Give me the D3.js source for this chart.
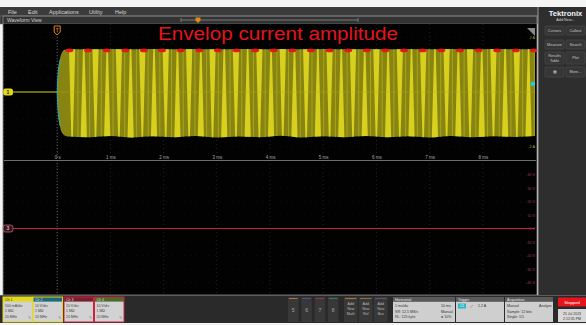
<!DOCTYPE html>
<html>
<head>
<meta charset="utf-8">
<script src="https://cdn.jsdelivr.net/npm/d3@7"></script>
<style>
  body { margin: 0; background: #fff; }
  svg { display: block; font-family: "Liberation Sans", Arial, sans-serif; }
</style>
</head>
<body>
<div id="chart"></div>
<script>
// values
const menuItems = ['File', 'Edit', 'Applications', 'Utility', 'Help']
const menuX = [8, 28, 49, 89, 115]

const timeTicks = [0, 1, 2, 3, 4, 5, 6, 7, 8]
const timeTickLabels = ['0 s', '1 ms', '2 ms', '3 ms', '4 ms', '5 ms', '6 ms', '7 ms', '8 ms']

// Ch1 current envelope (ms, A)
const envTime  = [0, 0.02, 0.05, 0.09, 0.14, 0.2, 0.6, 1.0, 1.4, 1.8, 2.2, 2.6, 3.0, 3.4, 3.8, 4.2, 4.6, 5.0, 5.4, 5.8, 6.2, 6.6, 7.0, 7.4, 7.8, 8.2, 8.6, 8.98]
const envUpper = [0, 0.75, 1.2, 1.45, 1.55, 1.57, 1.57, 1.58, 1.57, 1.58, 1.57, 1.58, 1.57, 1.58, 1.57, 1.58, 1.57, 1.58, 1.57, 1.58, 1.57, 1.58, 1.57, 1.58, 1.57, 1.58, 1.57, 1.58]
const envLower = [0, -0.8, -1.25, -1.5, -1.6, -1.64, -1.66, -1.62, -1.67, -1.63, -1.66, -1.62, -1.67, -1.64, -1.66, -1.61, -1.67, -1.63, -1.66, -1.62, -1.66, -1.63, -1.67, -1.62, -1.66, -1.63, -1.65, -1.62]
// bright aliasing stripes inside the envelope (ms)
const stripeTimes = [0.28, 0.50, 0.72, 0.94, 1.16, 1.38, 1.60, 1.82, 2.04, 2.26, 2.48, 2.70, 2.92, 3.14, 3.36, 3.58, 3.80, 4.02, 4.24, 4.46, 4.68, 4.90, 5.12, 5.34, 5.56, 5.78, 6.00, 6.22, 6.44, 6.66, 6.88, 7.10, 7.32, 7.54, 7.76, 7.98, 8.20, 8.42, 8.64, 8.86]
// red peak marks along the top of the envelope (ms)
const peakTimes = [0.23, 0.58, 0.93, 1.28, 1.63, 1.97, 2.32, 2.67, 3.02, 3.37, 3.72, 4.07, 4.42, 4.77, 5.12, 5.47, 5.82, 6.17, 6.52, 6.87, 7.22, 7.57, 7.92, 8.27, 8.62, 8.96]
const preTime = [-0.83, 0]
const preLevel = [0, 0]
const ch1Ticks = [2, -2]
const ch1TickLabels = ['2 A', '-2 A']

// Ch3 voltage (flat at 0 V)
const ch3Time = [-0.83, 8.98]
const ch3Level = [0, 0]
const ch3Ticks = [40, 30, 20, 10, 0, -10, -20, -30, -40]
const ch3TickLabels = ['40 V', '30 V', '20 V', '10 V', '0 V', '-10 V', '-20 V', '-30 V', '-40 V']

const channelNames = ['Ch 1', 'Ch 2', 'Ch 3', 'Ch 4']
const channelScale = ['500 mA/div', '10 V/div', '10 V/div', '10 V/div']
const channelImp = ['1 MΩ', '1 MΩ', '1 MΩ', '1 MΩ']
const channelBw = ['20 MHz', '20 MHz', '20 MHz', '20 MHz']
const channelColors = ['#e2d81e', '#1d6a78', '#7a1e30', '#4a6c2a']
const channelText = ['#333', '#ddd', '#ddd', '#ddd']
const channelFrame = ['#e2d81e', '#e2d81e', '#d0203c', '#d0203c']

const mathButtons = ['5', '6', '7', '8']
const mathColors = ['#b0743a', '#5a4a8a', '#8a3a4a', '#3a7a5a']
const addButtons = [['Add', 'New', 'Math'], ['Add', 'New', 'Ref'], ['Add', 'New', 'Bus']]
const addColors = ['#b0743a', '#8a6a4a', '#6a4a8a']

const sideButtons = [['Cursors'], ['Callout'], ['Measure'], ['Search'], ['Results', 'Table'], ['Plot'], ['▦'], ['More...']]

const W = 586, H = 325

const svg = d3.select('#chart')
  .append('svg')
  .attr('width', W)
  .attr('height', H)

svg.append('rect').attr('width', W).attr('height', H).attr('fill', '#f4f4f4')

// scales
const x = d3.scaleLinear().domain([-1, 9]).range([4, 536])
const yA = d3.scaleLinear().domain([-2.5, 2.5]).range([160, 24])
const yV = d3.scaleLinear().domain([-50, 50]).range([296, 161])

const txt = (g, s, tx, ty, size, fill, anchor='start', weight='normal') =>
  g.append('text').attr('x', tx).attr('y', ty).attr('font-size', size)
    .attr('fill', fill).attr('text-anchor', anchor).attr('font-weight', weight).text(s)

// menu bar
svg.append('rect').attr('x', 0).attr('y', 7).attr('width', 538).attr('height', 9).attr('fill', '#3b3b3b')
menuItems.forEach((m, i) => txt(svg, m, menuX[i], 13.5, 5.5, '#d8d8d8'))
svg.append('rect').attr('x', 0).attr('y', 16).attr('width', 538).attr('height', 8).attr('fill', '#333')
  .attr('stroke', '#777').attr('stroke-width', 0.6)
txt(svg, 'Waveform View', 7, 22, 5, '#cfcfcf')
svg.append('line').attr('x1', 181).attr('x2', 358).attr('y1', 20).attr('y2', 20).attr('stroke', '#8a8a8a').attr('stroke-width', 0.8)
svg.append('line').attr('x1', 181).attr('x2', 181).attr('y1', 18).attr('y2', 22).attr('stroke', '#8a8a8a').attr('stroke-width', 0.8)
svg.append('line').attr('x1', 358).attr('x2', 358).attr('y1', 18).attr('y2', 22).attr('stroke', '#8a8a8a').attr('stroke-width', 0.8)
svg.append('path').attr('d', 'M195.5,17.5h5v3l-2.5,2.5l-2.5,-2.5z').attr('fill', '#e08a1a')

// plot background
svg.append('rect').attr('x', 3).attr('y', 24).attr('width', 534).attr('height', 271).attr('fill', '#020202')

// grid
const grid = svg.append('g')
grid.selectAll('.vg').data(timeTicks.concat([-1]))
  .enter().append('line')
  .attr('x1', d => x(d)).attr('x2', d => x(d)).attr('y1', 24).attr('y2', 295)
  .attr('stroke', '#3a3a3a').attr('stroke-width', 0.6).attr('stroke-dasharray', '1,3')
grid.selectAll('.hgA').data(d3.range(-2, 2.5, 0.5))
  .enter().append('line')
  .attr('x1', 4).attr('x2', 536).attr('y1', d => yA(d)).attr('y2', d => yA(d))
  .attr('stroke', '#1e1e1e').attr('stroke-width', 0.5).attr('stroke-dasharray', '1,5')
grid.selectAll('.hgV').data(ch3Ticks)
  .enter().append('line')
  .attr('x1', 4).attr('x2', 536).attr('y1', d => yV(d)).attr('y2', d => yV(d))
  .attr('stroke', '#1e1e1e').attr('stroke-width', 0.5).attr('stroke-dasharray', '1,5')

// trigger position
svg.append('line').attr('x1', x(0)).attr('x2', x(0)).attr('y1', 34).attr('y2', 295)
  .attr('stroke', '#9a9a9a').attr('stroke-width', 0.6).attr('stroke-dasharray', '1,2')
svg.append('path').attr('d', `M${x(0)-3},26h6v6l-3,3l-3,-3z`).attr('fill', 'none').attr('stroke', '#e08a1a').attr('stroke-width', 1)
txt(svg, 'T', x(0), 31.5, 4.5, '#e08a1a', 'middle', 'bold')

// title
txt(svg, 'Envelop current amplitude', 158, 40, 18, '#e4141c')
  .attr('textLength', 240).attr('lengthAdjust', 'spacingAndGlyphs')

// Ch1 envelope
const envData = envTime.map((t, i) => ({t, hi: envUpper[i], lo: envLower[i]}))
const area = d3.area().x(d => x(d.t)).y0(d => yA(d.lo)).y1(d => yA(d.hi)).curve(d3.curveMonotoneX)

svg.append('clipPath').attr('id', 'envClip').append('path').attr('d', area(envData))

svg.append('path').attr('d', area(envData)).attr('fill', '#878412')

const stripes = svg.append('g').attr('clip-path', 'url(#envClip)')
stripes.selectAll('path').data(stripeTimes)
  .enter().append('path')
  .attr('d', (d, i) => {
    const xc = x(d)
    const wt = i % 2 ? 0.7 : 3.2
    const wb = i % 2 ? 3.2 : 0.7
    return `M${xc - wt},${yA(1.7)}L${xc + wt},${yA(1.7)}L${xc + wb},${yA(-1.8)}L${xc - wb},${yA(-1.8)}Z`
  })
  .attr('fill', '#d8d01e')
stripes.selectAll('line').data(stripeTimes)
  .enter().append('line')
  .attr('x1', d => x(d) + 5.8).attr('x2', d => x(d) + 5.8)
  .attr('y1', yA(1.7)).attr('y2', yA(-1.8))
  .attr('stroke', '#aaa418').attr('stroke-width', 1)
stripes.append('line').attr('x1', x(0)).attr('x2', x(9)).attr('y1', yA(0)).attr('y2', yA(0))
  .attr('stroke', '#b8b020').attr('stroke-width', 0.6).attr('opacity', 0.6)

// leading edge tint
svg.append('path')
  .attr('d', `M${x(0)},${yA(0)}Q${x(0.01)},${yA(0.9)} ${x(0.06)},${yA(1.2)}`)
  .attr('fill', 'none').attr('stroke', '#2ab0c0').attr('stroke-width', 1)
svg.append('path')
  .attr('d', `M${x(0)},${yA(0)}Q${x(0.01)},${yA(-0.9)} ${x(0.06)},${yA(-1.25)}`)
  .attr('fill', 'none').attr('stroke', '#2ab0c0').attr('stroke-width', 1)

// red peaks
svg.selectAll('.peak').data(peakTimes)
  .enter().append('ellipse')
  .attr('cx', d => x(d)).attr('cy', yA(1.53))
  .attr('rx', 4).attr('ry', 1.8)
  .attr('fill', '#e01a16')

// pre-trigger baseline
const line = d3.line().x(d => x(d[0])).y(d => yA(d[1]))
svg.append('path').attr('d', line(preTime.map((t, i) => [t, preLevel[i]])))
  .attr('stroke', '#d8d020').attr('stroke-width', 1).attr('fill', 'none')

// Ch1 marker
svg.append('rect').attr('x', 3).attr('y', yA(0) - 3.5).attr('width', 10).attr('height', 7).attr('rx', 2.5).attr('fill', '#e2d81e')
txt(svg, '1', 8, yA(0) + 1.8, 5, '#222', 'middle', 'bold')

// Ch1 tick labels
ch1Ticks.forEach((v, i) => txt(svg, ch1TickLabels[i], 535, yA(v) + 1.5, 3.8, '#9aaa2a', 'end'))
svg.append('path').attr('d', 'M527,28L535,28L535,36Z').attr('fill', '#8a8a8a')
svg.append('circle').attr('cx', 533).attr('cy', yA(0.3)).attr('r', 2.3).attr('fill', '#22ccd8')

// time axis
const xAxis = d3.axisTop(x)
  .tickValues(timeTicks)
  .tickFormat((d, i) => timeTickLabels[i])
  .tickSize(0)
  .tickPadding(2)
const axisG = svg.append('g').attr('transform', 'translate(0,160.5)').call(xAxis)
axisG.select('.domain').attr('stroke', '#8a8a8a').attr('stroke-width', 0.8)
  .attr('d', `M4,0H536`)
axisG.selectAll('text').attr('fill', '#a8a8a8').attr('font-size', 4.5).attr('font-family', 'Liberation Sans, Arial, sans-serif')

// Ch3 trace
const line3 = d3.line().x(d => x(d[0])).y(d => yV(d[1]))
svg.append('path').attr('d', line3(ch3Time.map((t, i) => [t, ch3Level[i]])))
  .attr('stroke', '#c41e44').attr('stroke-width', 1.1).attr('fill', 'none')
svg.append('rect').attr('x', 3).attr('y', yV(0) - 3.5).attr('width', 10).attr('height', 7).attr('rx', 2.5)
  .attr('fill', '#2a1a1e').attr('stroke', '#c8607a').attr('stroke-width', 0.8)
txt(svg, '3', 8, yV(0) + 1.8, 5, '#e0a0b0', 'middle', 'bold')

const yAxis3 = d3.axisLeft(yV).tickValues(ch3Ticks).tickFormat((d, i) => ch3TickLabels[i]).tickSize(0).tickPadding(0)
const y3G = svg.append('g').attr('transform', 'translate(535,0)').call(yAxis3)
y3G.select('.domain').remove()
y3G.selectAll('text').attr('fill', '#a0384e').attr('font-size', 3.8).attr('font-family', 'Liberation Sans, Arial, sans-serif')

// plot frame
svg.append('rect').attr('x', 3).attr('y', 16).attr('width', 534).attr('height', 279)
  .attr('fill', 'none').attr('stroke', '#8a8a8a').attr('stroke-width', 0.8)

// right side panel
svg.append('rect').attr('x', 538).attr('y', 7).attr('width', 48).attr('height', 288).attr('fill', '#2e2e2e')
svg.append('line').attr('x1', 538).attr('x2', 538).attr('y1', 7).attr('y2', 295).attr('stroke', '#9a9a9a').attr('stroke-width', 1)
txt(svg, 'Tektronix', 565.5, 15.5, 7.6, '#f2f2f2', 'middle', 'bold')
txt(svg, 'Add New...', 565.5, 20.5, 3.8, '#cfcfcf', 'middle')
const sideX = [545, 566], sideY = [26, 40, 52, 67], sideH = [9, 9, 12, 10]
sideButtons.forEach((lab, i) => {
  const bx = sideX[i % 2], r = Math.floor(i / 2), by = sideY[r]
  svg.append('rect').attr('x', bx).attr('y', by).attr('width', 19).attr('height', sideH[r])
    .attr('fill', '#363636').attr('stroke', '#4e4e4e').attr('stroke-width', 0.6).attr('rx', 1)
  lab.forEach((s, j) => txt(svg, s, bx + 9.5, by + sideH[r] / 2 + 1.4 + (j - (lab.length - 1) / 2) * 4.4, 3.8, '#c8c8c8', 'middle'))
})

// bottom bar
svg.append('rect').attr('x', 0).attr('y', 295).attr('width', W).attr('height', 28).attr('fill', '#2a2a2a')
svg.append('line').attr('x1', 0).attr('x2', W).attr('y1', 295.5).attr('y2', 295.5).attr('stroke', '#6a6a6a').attr('stroke-width', 0.8)

const badgeX = [3, 33, 64, 94.5], badgeW = 29.5
channelNames.forEach((c, i) => {
  const bx = badgeX[i]
  svg.append('rect').attr('x', bx).attr('y', 297).attr('width', badgeW).attr('height', 25).attr('fill', '#d2d2d2')
  svg.append('rect').attr('x', bx).attr('y', 297).attr('width', badgeW).attr('height', 4.6).attr('fill', channelColors[i])
  svg.append('rect').attr('x', bx).attr('y', 297).attr('width', badgeW).attr('height', 25)
    .attr('fill', 'none').attr('stroke', channelFrame[i]).attr('stroke-width', 1)
  txt(svg, c, bx + 2, 300.8, 3.6, channelText[i])
  txt(svg, channelScale[i], bx + 2, 306.6, 3.5, '#444')
  txt(svg, channelImp[i], bx + 2, 312.3, 3.5, '#444')
  txt(svg, channelBw[i], bx + 2, 318, 3.5, '#444')
  txt(svg, '✎', bx + badgeW - 2, 318.5, 4, '#555', 'end')
})

mathButtons.forEach((m, i) => {
  const bx = 288 + i * 13.3
  svg.append('rect').attr('x', bx).attr('y', 297).attr('width', 10.5).attr('height', 25).attr('fill', '#383838')
  svg.append('rect').attr('x', bx + 1).attr('y', 298).attr('width', 8.5).attr('height', 1).attr('fill', mathColors[i])
  txt(svg, m, bx + 5.25, 312, 5, '#a8a8a8', 'middle')
})
addButtons.forEach((lab, i) => {
  const bx = 344 + i * 15
  svg.append('rect').attr('x', bx).attr('y', 297).attr('width', 13.5).attr('height', 25).attr('fill', '#383838')
  svg.append('rect').attr('x', bx + 1).attr('y', 298).attr('width', 11.5).attr('height', 1).attr('fill', addColors[i])
  lab.forEach((s, j) => txt(svg, s, bx + 6.75, 305 + j * 5, 3.6, '#b8b8b8', 'middle'))
})

// info panels
const panel = (px, pw, title, rows) => {
  svg.append('rect').attr('x', px).attr('y', 297).attr('width', pw).attr('height', 25).attr('fill', '#cfcfcf')
  svg.append('rect').attr('x', px).attr('y', 297).attr('width', pw).attr('height', 4.8).attr('fill', '#5a5a5a')
  txt(svg, title, px + 2, 300.9, 3.6, '#e6e6e6')
  rows.forEach((r, j) => {
    txt(svg, r[0], px + 2, 307 + j * 5.5, 3.6, '#333')
    if (r[1]) txt(svg, r[1], px + pw - 14, 307 + j * 5.5, 3.6, '#333')
  })
}
panel(393, 62, 'Horizontal', [['1 ms/div', '10 ms'], ['SR: 12.5 MS/s', 'Manual'], ['RL: 125 kpts', '● 10%']])
panel(456, 48, 'Trigger', [])
svg.append('rect').attr('x', 458).attr('y', 303.5).attr('width', 8).attr('height', 5).attr('fill', '#2ab8c8')
txt(svg, 'C1', 462, 307.4, 3.6, '#fff', 'middle')
txt(svg, '⟋', 470, 307.6, 4.5, '#333')
txt(svg, '1.2 A', 478, 307.4, 3.6, '#333')
panel(505, 48, 'Acquisition', [['Manual', 'Analyze'], ['Sample: 12 bits'], ['Single: 1/1']])

svg.append('rect').attr('x', 558).attr('y', 297.5).attr('width', 28).attr('height', 9).attr('fill', '#e8141c')
txt(svg, 'Stopped', 572, 303.6, 4.2, '#fff', 'middle')
svg.append('rect').attr('x', 558).attr('y', 309).attr('width', 28).attr('height', 13).attr('fill', '#d8d8d8')
txt(svg, '25 Jul 2023', 572, 314.5, 3.5, '#333', 'middle')
txt(svg, '2:12:35 PM', 572, 319.5, 3.5, '#333', 'middle')
</script>
</body>
</html>
